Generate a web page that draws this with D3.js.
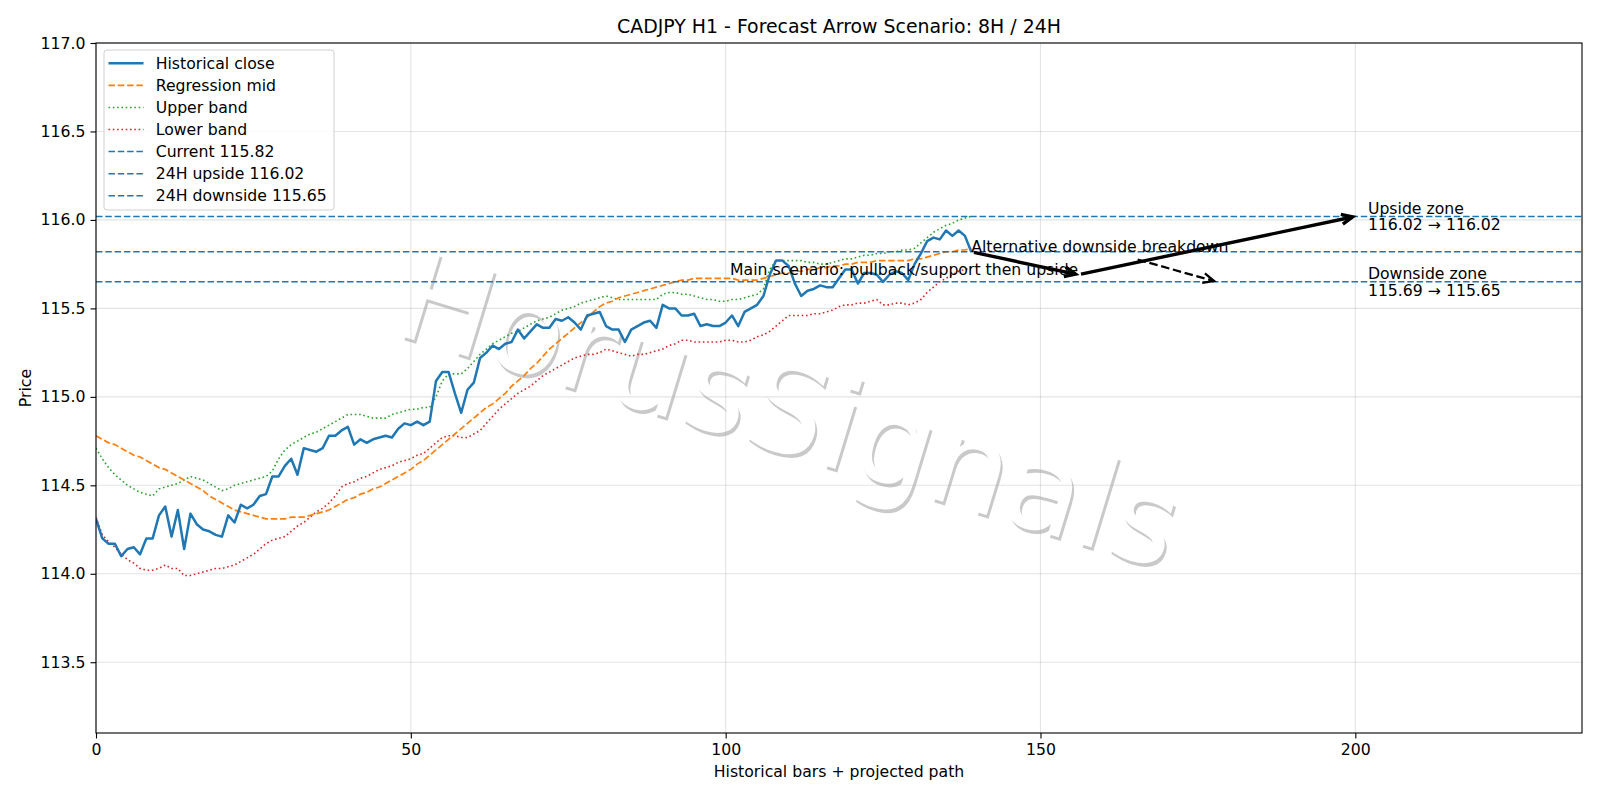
<!DOCTYPE html>
<html>
<head>
<meta charset="utf-8">
<script src="https://cdn.jsdelivr.net/npm/d3@7"></script>
<style>
  body { margin: 0; background: #fff; }
  svg { display: block; font-family: 'DejaVu Sans', sans-serif; }
</style>
</head>
<body>
<svg id="chart" width="1600" height="800"></svg>
<script>
// historical close, 140 H1 bars
const closeVals = [
  114.31, 114.20, 114.17, 114.17, 114.10, 114.14, 114.15, 114.11, 114.20, 114.20,
  114.33, 114.38, 114.21, 114.36, 114.14, 114.34, 114.28, 114.25, 114.24, 114.22,
  114.21, 114.33, 114.29, 114.39, 114.37, 114.39, 114.44, 114.45, 114.55, 114.55,
  114.61, 114.65, 114.56, 114.71, 114.70, 114.69, 114.71, 114.78, 114.78, 114.81,
  114.83, 114.73, 114.76, 114.74, 114.76, 114.77, 114.78, 114.77, 114.82, 114.85,
  114.84, 114.86, 114.84, 114.86, 115.09, 115.14, 115.14, 115.02, 114.91, 115.04,
  115.08, 115.22, 115.25, 115.29, 115.27, 115.30, 115.31, 115.38, 115.33, 115.37,
  115.41, 115.39, 115.39, 115.44, 115.43, 115.45, 115.42, 115.38, 115.46, 115.47,
  115.48, 115.40, 115.38, 115.38, 115.31, 115.38, 115.40, 115.42, 115.43, 115.39,
  115.52, 115.50, 115.50, 115.46, 115.46, 115.47, 115.40, 115.41, 115.40, 115.40,
  115.42, 115.46, 115.40, 115.48, 115.50, 115.52, 115.57, 115.69, 115.77, 115.77,
  115.74, 115.64, 115.57, 115.60, 115.61, 115.63, 115.62, 115.62, 115.67, 115.72,
  115.72, 115.64, 115.70, 115.70, 115.69, 115.65, 115.69, 115.71, 115.70, 115.66,
  115.75, 115.81, 115.88, 115.90, 115.89, 115.94, 115.91, 115.94, 115.91, 115.82
]

const regMid = [
  114.78, 114.76, 114.74, 114.73, 114.71, 114.69, 114.67, 114.66, 114.64, 114.62,
  114.60, 114.59, 114.57, 114.55, 114.53, 114.51, 114.49, 114.47, 114.44, 114.42,
  114.40, 114.38, 114.36, 114.35, 114.34, 114.33, 114.32, 114.31, 114.31, 114.31,
  114.31, 114.32, 114.32, 114.32, 114.33, 114.34, 114.35, 114.36, 114.38, 114.40,
  114.42, 114.43, 114.45, 114.46, 114.48, 114.49, 114.51, 114.53, 114.55, 114.57,
  114.59, 114.62, 114.64, 114.67, 114.70, 114.73, 114.76, 114.79, 114.82, 114.85,
  114.88, 114.91, 114.94, 114.96, 114.99, 115.02, 115.06, 115.09, 115.12, 115.16,
  115.19, 115.23, 115.27, 115.30, 115.33, 115.36, 115.39, 115.42, 115.45, 115.48,
  115.51, 115.53, 115.54, 115.56, 115.57, 115.58, 115.59, 115.60, 115.61, 115.62,
  115.63, 115.64, 115.65, 115.66, 115.66, 115.67, 115.67, 115.67, 115.67, 115.67,
  115.67, 115.67, 115.66, 115.66, 115.66, 115.66, 115.67, 115.68, 115.69, 115.70,
  115.70, 115.71, 115.71, 115.72, 115.72, 115.73, 115.73, 115.74, 115.74, 115.75,
  115.75, 115.76, 115.76, 115.76, 115.77, 115.77, 115.77, 115.77, 115.77, 115.77,
  115.78, 115.78, 115.79, 115.80, 115.81, 115.82, 115.82, 115.83, 115.83, 115.84
]

const upperBand = [
  114.71, 114.65, 114.60, 114.56, 114.53, 114.50, 114.48, 114.46, 114.45, 114.44,
  114.48, 114.49, 114.50, 114.51, 114.53, 114.55, 114.54, 114.53, 114.51, 114.49,
  114.47, 114.48, 114.50, 114.51, 114.52, 114.53, 114.54, 114.55, 114.58, 114.65,
  114.70, 114.73, 114.75, 114.77, 114.79, 114.80, 114.82, 114.84, 114.86, 114.88,
  114.90, 114.90, 114.90, 114.89, 114.88, 114.88, 114.88, 114.90, 114.91, 114.92,
  114.93, 114.93, 114.94, 114.94, 115.00, 115.09, 115.13, 115.13, 115.13, 115.16,
  115.20, 115.24, 115.27, 115.30, 115.32, 115.34, 115.36, 115.37, 115.39, 115.41,
  115.43, 115.44, 115.45, 115.47, 115.49, 115.50, 115.51, 115.53, 115.54, 115.55,
  115.56, 115.57, 115.56, 115.55, 115.55, 115.55, 115.55, 115.55, 115.55, 115.55,
  115.58, 115.59, 115.59, 115.58, 115.58, 115.57, 115.56, 115.55, 115.55, 115.54,
  115.54, 115.55, 115.55, 115.56, 115.57, 115.58, 115.61, 115.72, 115.77, 115.77,
  115.77, 115.77, 115.77, 115.76, 115.76, 115.75, 115.75, 115.76, 115.77, 115.78,
  115.78, 115.79, 115.80, 115.80, 115.81, 115.81, 115.82, 115.82, 115.83, 115.83,
  115.84, 115.87, 115.90, 115.93, 115.95, 115.97, 115.98, 116.00, 116.01, 116.02
]

const lowerBand = [
  114.32, 114.22, 114.18, 114.15, 114.11, 114.08, 114.06, 114.03, 114.02, 114.02,
  114.03, 114.05, 114.03, 114.03, 113.99, 113.99, 114.00, 114.01, 114.02, 114.03,
  114.03, 114.04, 114.05, 114.07, 114.09, 114.11, 114.14, 114.17, 114.19, 114.20,
  114.21, 114.24, 114.27, 114.29, 114.32, 114.35, 114.37, 114.40, 114.44, 114.49,
  114.51, 114.52, 114.54, 114.55, 114.57, 114.59, 114.60, 114.61, 114.63, 114.64,
  114.65, 114.67, 114.68, 114.71, 114.74, 114.77, 114.78, 114.78, 114.77, 114.77,
  114.79, 114.81, 114.85, 114.89, 114.93, 114.96, 114.99, 115.02, 115.04, 115.06,
  115.09, 115.12, 115.14, 115.16, 115.18, 115.20, 115.22, 115.23, 115.24, 115.24,
  115.25, 115.27, 115.26, 115.25, 115.24, 115.23, 115.24, 115.24, 115.25, 115.26,
  115.27, 115.29, 115.30, 115.32, 115.32, 115.31, 115.31, 115.31, 115.31, 115.31,
  115.32, 115.32, 115.31, 115.31, 115.32, 115.34, 115.35, 115.37, 115.40, 115.43,
  115.46, 115.46, 115.46, 115.46, 115.47, 115.47, 115.48, 115.49, 115.51, 115.52,
  115.52, 115.53, 115.53, 115.54, 115.55, 115.52, 115.52, 115.53, 115.53, 115.52,
  115.53, 115.55, 115.59, 115.62, 115.65, 115.67, 115.69, 115.71, 115.72, 115.73
]

// reference levels
const currentPrice = 115.82
const upsideLevel = 116.02
const downsideLevel = 115.65
const downsideFrom = 115.69

// projected path (bar, price)
const mainLeg1 = [[139, 115.82], [156, 115.69]]
const mainLeg2 = [[156, 115.69], [200, 116.02]]
const altLeg = [[165, 115.78], [178, 115.65]]

const xTicks = [0, 50, 100, 150, 200]
const yTicks = [113.5, 114.0, 114.5, 115.0, 115.5, 116.0, 116.5, 117.0]

const C0 = '#1f77b4', C1 = '#ff7f0e', C2 = '#2ca02c', C3 = '#d62728'
const FS = 15.7

let margin = {top: 43, right: 18, bottom: 67, left: 96}
let svg = d3.select('#chart')
let width = 1600 - margin.left - margin.right
let height = 800 - margin.top - margin.bottom

let x = d3.scaleLinear().domain([0, 236]).range([0, width])
let y = d3.scaleLinear().domain([113.1, 117.0]).range([height, 0])

svg.append('defs').append('clipPath').attr('id', 'clip')
  .append('rect').attr('width', width).attr('height', height)

// watermark (под графиком)
let wm = svg.append('g').attr('transform', 'translate(790,410) rotate(17)')
wm.append('text').text('HorusSignals')
  .attr('x', 3).attr('y', 3)
  .attr('text-anchor', 'middle').attr('dominant-baseline', 'central')
  .attr('font-size', 124).attr('fill', '#4d4d4d').attr('fill-opacity', 0.3)
wm.append('text').text('HorusSignals')
  .attr('text-anchor', 'middle').attr('dominant-baseline', 'central')
  .attr('font-size', 124).attr('fill', '#fff')

let g = svg.append('g').attr('transform', 'translate(' + margin.left + ',' + margin.top + ')')

// сетка
g.append('g').selectAll('line').data(xTicks).enter().append('line')
  .attr('x1', d => x(d)).attr('x2', d => x(d)).attr('y1', 0).attr('y2', height)
  .attr('stroke', '#b0b0b0').attr('stroke-opacity', 0.35).attr('stroke-width', 1.1)
g.append('g').selectAll('line').data(yTicks).enter().append('line')
  .attr('x1', 0).attr('x2', width).attr('y1', d => y(d)).attr('y2', d => y(d))
  .attr('stroke', '#b0b0b0').attr('stroke-opacity', 0.35).attr('stroke-width', 1.1)

let plot = g.append('g').attr('clip-path', 'url(#clip)')

let line = d3.line().x((d, i) => x(i)).y(d => y(d))

plot.append('path').datum(upperBand).attr('d', line)
  .attr('fill', 'none').attr('stroke', C2).attr('stroke-width', 1.6)
  .attr('stroke-dasharray', '1.6,2.7')
plot.append('path').datum(lowerBand).attr('d', line)
  .attr('fill', 'none').attr('stroke', C3).attr('stroke-width', 1.6)
  .attr('stroke-dasharray', '1.6,2.7')
plot.append('path').datum(regMid).attr('d', line)
  .attr('fill', 'none').attr('stroke', C1).attr('stroke-width', 1.7)
  .attr('stroke-dasharray', '6.5,2.8')
plot.append('path').datum(closeVals).attr('d', line)
  .attr('fill', 'none').attr('stroke', C0).attr('stroke-width', 2.5)
  .attr('stroke-linejoin', 'round')

// горизонтальные уровни
plot.selectAll('.level').data([currentPrice, upsideLevel, downsideLevel]).enter()
  .append('line').attr('class', 'level')
  .attr('x1', 0).attr('x2', width).attr('y1', d => y(d)).attr('y2', d => y(d))
  .attr('stroke', C0).attr('stroke-width', 1.5).attr('stroke-dasharray', '6.5,2.8')

// стрелки сценария
function arrow (leg, dashed) {
  let x0 = x(leg[0][0]), y0 = y(leg[0][1])
  let x1 = x(leg[1][0]), y1 = y(leg[1][1])
  let a = Math.atan2(y1 - y0, x1 - x0)
  let s = 2.8
  x0 += s * Math.cos(a); y0 += s * Math.sin(a)
  x1 -= s * Math.cos(a); y1 -= s * Math.sin(a)
  let p = plot.append('path')
    .attr('d', 'M' + x0 + ',' + y0 + 'L' + x1 + ',' + y1)
    .attr('fill', 'none').attr('stroke', '#000').attr('stroke-width', dashed ? 2.3 : 3.4)
  if (dashed) p.attr('stroke-dasharray', '8.5,3.7')
  let hl = 12, hw = 0.42
  plot.append('path')
    .attr('d', 'M' + (x1 - hl * Math.cos(a - hw)) + ',' + (y1 - hl * Math.sin(a - hw)) +
      'L' + x1 + ',' + y1 +
      'L' + (x1 - hl * Math.cos(a + hw)) + ',' + (y1 - hl * Math.sin(a + hw)))
    .attr('fill', 'none').attr('stroke', '#000').attr('stroke-width', dashed ? 2.3 : 3.4)
    .attr('stroke-linejoin', 'miter')
}
arrow(mainLeg1, false)
arrow(mainLeg2, false)
arrow(altLeg, true)

// подписи
g.append('text').text('Main scenario: pullback/support then upside')
  .attr('x', x(mainLeg1[1][0])).attr('y', y(mainLeg1[1][1]))
  .attr('text-anchor', 'end').attr('font-size', FS).attr('fill', '#000')
g.append('text').text('Alternative downside breakdown')
  .attr('x', x(mainLeg1[0][0])).attr('y', y(mainLeg1[0][1]))
  .attr('font-size', FS).attr('fill', '#000')

function zone (title, txt, level) {
  let t = g.append('text').attr('font-size', FS).attr('fill', '#000')
  t.append('tspan').attr('x', x(202)).attr('y', y(level) - 2.5).text(title)
  t.append('tspan').attr('x', x(202)).attr('y', y(level) + 13.8).text(txt)
}
zone('Upside zone', upsideLevel.toFixed(2) + ' \u2192 ' + upsideLevel.toFixed(2), upsideLevel)
zone('Downside zone', downsideFrom.toFixed(2) + ' \u2192 ' + downsideLevel.toFixed(2), downsideLevel)

// оси
let xAxis = d3.axisBottom(x).tickValues(xTicks).tickFormat(d3.format('d'))
  .tickSize(5.5).tickPadding(5).tickSizeOuter(0)
let yAxis = d3.axisLeft(y).tickValues(yTicks).tickFormat(d3.format('.1f'))
  .tickSize(5.5).tickPadding(5).tickSizeOuter(0)

let gX = g.append('g').attr('transform', 'translate(0,' + height + ')').call(xAxis)
let gY = g.append('g').call(yAxis)
;[gX, gY].forEach(a => {
  a.select('.domain').remove()
  a.selectAll('.tick line').attr('stroke', '#000').attr('stroke-width', 1.1)
  a.selectAll('.tick text').attr('font-size', FS).attr('fill', '#000')
    .attr('font-family', "'DejaVu Sans', sans-serif")
})

g.append('rect').attr('width', width).attr('height', height)
  .attr('fill', 'none').attr('stroke', '#000').attr('stroke-width', 1.1)

// legend
const legendItems = [
  {label: 'Historical close', color: C0, dash: null, w: 2.5},
  {label: 'Regression mid', color: C1, dash: '6.5,2.8', w: 1.7},
  {label: 'Upper band', color: C2, dash: '1.6,2.7', w: 1.6},
  {label: 'Lower band', color: C3, dash: '1.6,2.7', w: 1.6},
  {label: 'Current ' + currentPrice.toFixed(2), color: C0, dash: '6.5,2.8', w: 1.5},
  {label: '24H upside ' + upsideLevel.toFixed(2), color: C0, dash: '6.5,2.8', w: 1.5},
  {label: '24H downside ' + downsideLevel.toFixed(2), color: C0, dash: '6.5,2.8', w: 1.5}
]
let lg = svg.append('g').attr('transform', 'translate(104,50)')
lg.append('rect').attr('width', 230).attr('height', 160).attr('rx', 3)
  .attr('fill', '#fff').attr('fill-opacity', 0.8).attr('stroke', '#d0d0d0')
legendItems.forEach((d, i) => {
  let cy = 13.3 + i * 22.07
  let l = lg.append('line').attr('x1', 4.5).attr('x2', 39.5).attr('y1', cy).attr('y2', cy)
    .attr('stroke', d.color).attr('stroke-width', d.w)
  if (d.dash) l.attr('stroke-dasharray', d.dash)
  lg.append('text').attr('x', 51.7).attr('y', cy + 5.6).attr('font-size', FS)
    .attr('fill', '#000').text(d.label)
})

// заголовки
svg.append('text').attr('x', margin.left + width / 2).attr('y', 33)
  .attr('text-anchor', 'middle').attr('font-size', 18.9).attr('fill', '#000')
  .text('CADJPY H1 - Forecast Arrow Scenario: 8H / 24H')
svg.append('text').attr('x', margin.left + width / 2).attr('y', 777)
  .attr('text-anchor', 'middle').attr('font-size', FS).attr('fill', '#000')
  .text('Historical bars + projected path')
svg.append('text').attr('transform', 'translate(31,' + (margin.top + height / 2) + ') rotate(-90)')
  .attr('text-anchor', 'middle').attr('font-size', FS).attr('fill', '#000')
  .text('Price')
</script>
</body>
</html>
